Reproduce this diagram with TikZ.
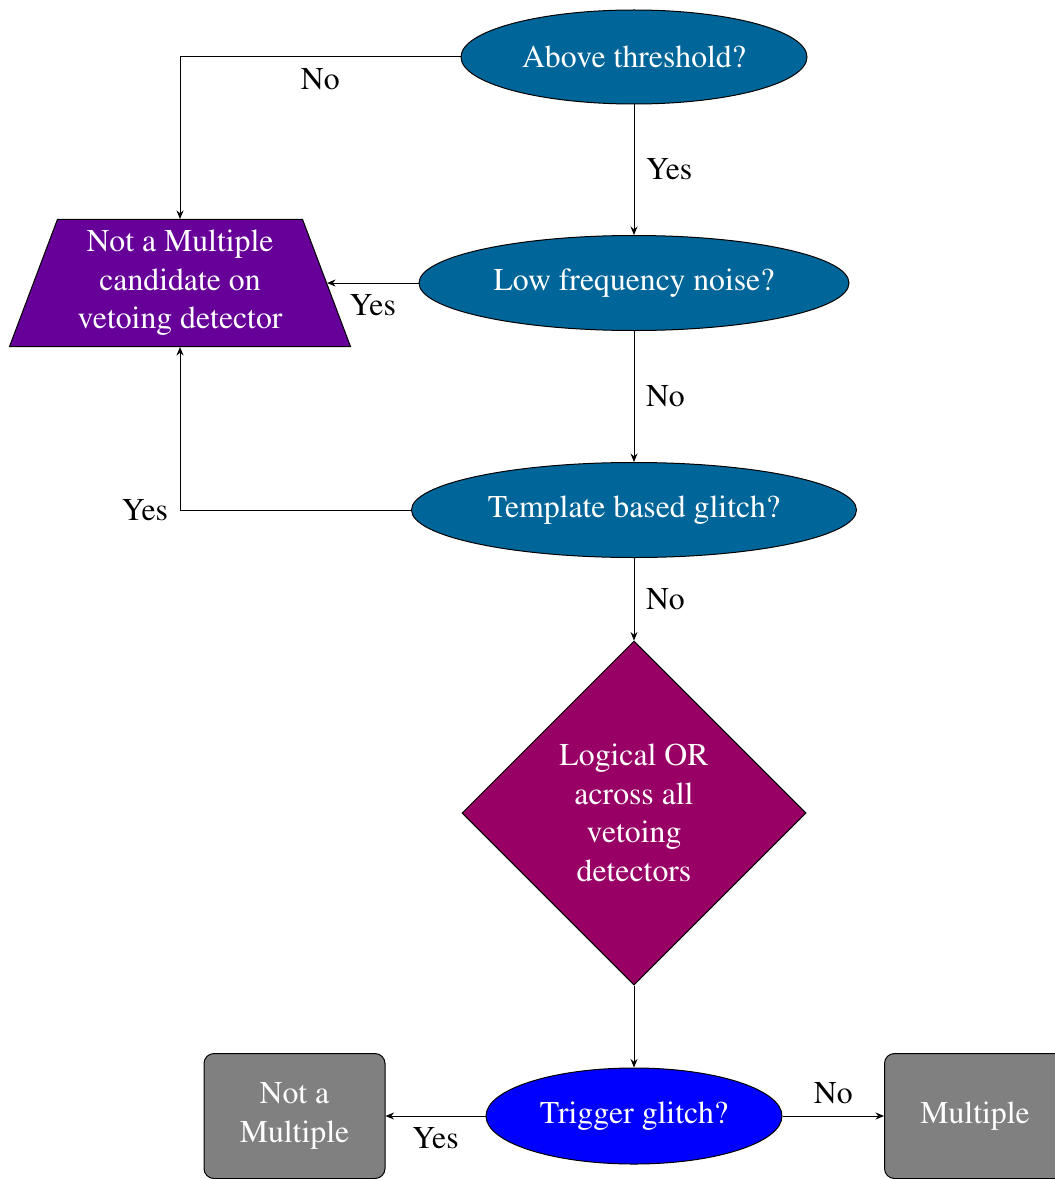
\documentclass[tikz,border=0pt]{standalone}
\usepackage[T1]{fontenc}
\usepackage{times}
\usetikzlibrary{shapes.geometric,arrows.meta}
\definecolor{qblue}{RGB}{0,102,153}
\definecolor{qpurple}{RGB}{102,0,153}
\definecolor{qmagenta}{RGB}{153,0,102}
\definecolor{qtrig}{RGB}{0,0,255}
\definecolor{qgray}{RGB}{128,128,128}
\begin{document}
\begin{tikzpicture}[x=0.4pt,y=-0.4pt,
  font=\fontsize{12.7}{15.4}\selectfont,
  conn/.style={draw,line width=0.4pt,-{Stealth[length=3.4pt,width=2.8pt]}},
  lbl/.style={inner sep=4.6pt},
  decision/.style={ellipse,draw,line width=0.4pt,fill=qblue,text=white,inner sep=1pt,minimum height=38pt},
  vetobox/.style={trapezium,trapezium left angle=70,trapezium right angle=70,trapezium stretches=true,
    draw,line width=0.4pt,fill=qpurple,text=white,align=center,minimum width=136.4pt,minimum height=50.8pt,inner sep=2pt},
  orbox/.style={diamond,draw,line width=0.4pt,fill=qmagenta,text=white,align=center,minimum width=137.6pt,minimum height=137.6pt,inner sep=0pt},
  trigbox/.style={ellipse,draw,line width=0.4pt,fill=qtrig,text=white,inner sep=1pt,minimum width=118.4pt,minimum height=38.4pt},
  resultbox/.style={rectangle,rounded corners=4pt,draw,line width=0.4pt,fill=qgray,text=white,align=center,minimum width=72.4pt,minimum height=50pt}
]
\useasboundingbox (0,0) rectangle (1054,1179);

\node[decision,minimum width=138.4pt,minimum height=37.6pt] (above) at (634,57) {Above threshold?};
\node[decision,minimum width=172pt] (low) at (634,283) {Low frequency noise?};
\node[decision,minimum width=178pt] (templ) at (634,510) {Template based glitch?};
\node[orbox] (or) at (634,813) {Logical OR\\across all\\vetoing\\detectors};
\node[trigbox] (trig) at (634,1116) {Trigger glitch?};
\node[vetobox] (veto) at (180,283) {Not a Multiple\\candidate on\\vetoing detector};
\node[resultbox] (notmult) at (294.5,1116) {Not a\\Multiple};
\node[resultbox] (mult) at (975,1116) {Multiple};

\draw[conn] (above.west) -| node[lbl,below,pos=0.25] {No} (veto.north);
\draw[conn] (above.south) -- node[lbl,right] {Yes} (low.north);
\draw[conn] (low.west) -- node[lbl,below] {Yes} (veto.east |- low.west);
\draw[conn] (low.south) -- node[lbl,right] {No} (templ.north);
\draw[conn] (templ.west) -| node[lbl,left,pos=0.5] {Yes} (veto.south);
\draw[conn] (templ.south) -- node[lbl,right] {No} (or.north);
\draw[conn] (or.south) -- (trig.north);
\draw[conn] (trig.west) -- node[lbl,below] {Yes} (notmult.east);
\draw[conn] (trig.east) -- node[lbl,above] {No} (mult.west);
\end{tikzpicture}
\end{document}
